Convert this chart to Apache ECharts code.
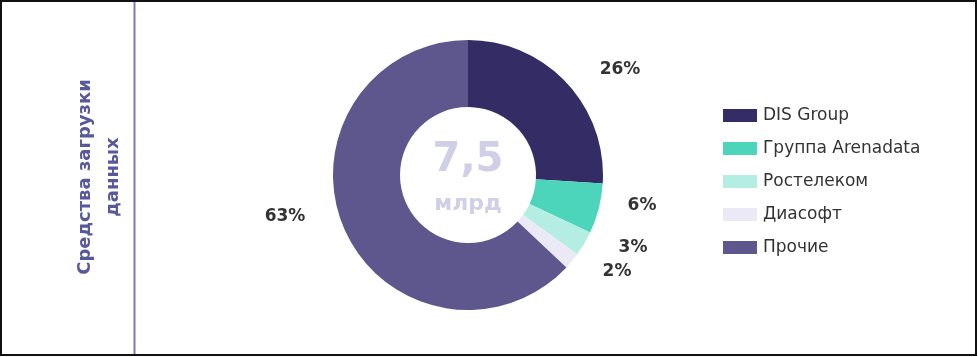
<!DOCTYPE html>
<html>
<head>
<meta charset="utf-8">
<script src="https://cdn.jsdelivr.net/npm/echarts@6/dist/echarts.min.js"></script>
<style>
html,body{margin:0;padding:0;background:#fff;}
#chart{width:978px;height:357px;}
</style>
</head>
<body>
<div id="chart"></div>
<script>
const categories = ['DIS Group', 'Группа Arenadata', 'Ростелеком', 'Диасофт', 'Прочие'];
const values = [26, 6, 3, 2, 63];
const rowTitle = 'Средства загрузки\nданных';
const centerValue = '7,5';
const centerUnit = 'млрд';

const colors = ['#342d65', '#4dd5bc', '#b4eee2', '#ebe9f5', '#5e578e'];
const cx = 468, cy = 175;
const labelOffsets = [[152, -105], [174, 31], [165, 73], [149, 97], [-183, 42]];

const chart = echarts.init(document.getElementById('chart'), null, {renderer: 'canvas'});
chart.setOption({
  animation: false,
  color: colors,
  legend: {
    orient: 'vertical',
    left: 723,
    top: 107,
    padding: 0,
    itemWidth: 34,
    itemHeight: 13,
    itemGap: 16,
    icon: 'rect',
    textStyle: {fontFamily: 'DejaVu Sans', fontSize: 17, color: '#333', padding: [0, 0, 0, 1]},
    data: categories
  },
  graphic: [
    {type: 'rect', shape: {x: 1, y: 1, width: 975, height: 354}, style: {fill: 'none', stroke: '#111', lineWidth: 2}, z: 10},
    {type: 'line', shape: {x1: 134.5, y1: 2, x2: 134.5, y2: 354}, style: {stroke: '#7b7bba', lineWidth: 2}, z: 10},
    {type: 'text', x: 99, y: 177, rotation: Math.PI / 2,
      style: {text: rowTitle, fontFamily: 'DejaVu Sans', fontWeight: 'bold', fontSize: 18, lineHeight: 28,
        fill: '#58589a', align: 'center', verticalAlign: 'middle'}, z: 10},
    {type: 'text', x: cx, y: 161,
      style: {text: centerValue, fontFamily: 'DejaVu Sans', fontWeight: 'bold', fontSize: 40,
        fill: '#d0cfe8', align: 'center', verticalAlign: 'middle'}, z: 10},
    {type: 'text', x: cx, y: 204,
      style: {text: centerUnit, fontFamily: 'DejaVu Sans', fontWeight: 'bold', fontSize: 22,
        fill: '#d0cfe8', align: 'center', verticalAlign: 'middle'}, z: 10}
  ],
  series: [{
    type: 'pie',
    center: [cx, cy],
    radius: [68, 135],
    startAngle: 90,
    clockwise: true,
    avoidLabelOverlap: false,
    itemStyle: {borderWidth: 0},
    label: {
      show: true,
      position: 'outside',
      formatter: '{c}%',
      fontFamily: 'DejaVu Sans',
      fontWeight: 'bold',
      fontSize: 17,
      color: '#333'
    },
    labelLine: {show: false},
    labelLayout: function (p) {
      const o = labelOffsets[p.dataIndex];
      return {x: cx + o[0], y: cy + o[1], align: 'center', verticalAlign: 'middle'};
    },
    emphasis: {disabled: true},
    data: categories.map((n, i) => ({name: n, value: values[i]}))
  }]
});
</script>
</body>
</html>
